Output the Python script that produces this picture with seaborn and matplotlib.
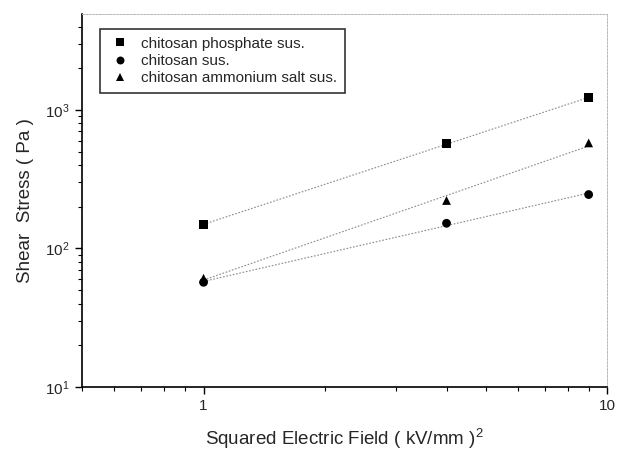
import numpy as np
import pandas as pd
import matplotlib
matplotlib.use("Agg")
import matplotlib.pyplot as plt
import seaborn as sns
from matplotlib.ticker import LogLocator, NullFormatter

# ---- data ----
field = [1, 4, 9]
phosphate = [149, 569, 1227]
chitosan = [57, 152, 245]
ammonium = [61, 222, 578]
series_names = ["chitosan phosphate sus.", "chitosan sus.", "chitosan ammonium salt sus."]
xtick_vals = [1, 10]
xtick_labels = ["1", "10"]

sns.set_theme(style="ticks")
plt.rcParams['font.family'] = ['Liberation Sans', 'DejaVu Sans']
plt.rcParams['mathtext.fontset'] = 'custom'
plt.rcParams['mathtext.rm'] = 'Liberation Sans'
plt.rcParams['mathtext.it'] = 'Liberation Sans'

df = pd.DataFrame({
    "x": field * 3,
    "y": phosphate + chitosan + ammonium,
    "series": [series_names[0]] * 3 + [series_names[1]] * 3 + [series_names[2]] * 3,
})

fig = plt.figure(figsize=(6.17, 4.5), dpi=100)
ax = fig.add_axes([0.133, 0.14, 0.851, 0.829])

# power-law fit lines (straight lines in log-log)
xs = np.array([1.0, 9.0])
for vals in (phosphate, chitosan, ammonium):
    k, b = np.polyfit(np.log10(field), np.log10(vals), 1)
    ax.plot(xs, 10 ** (b + k * np.log10(xs)), color="#8a8a8a", lw=0.8,
            ls=(0, (1.5, 1.5)), zorder=1)

sns.scatterplot(data=df, x="x", y="y", style="series", hue="series",
                palette=["black"] * 3, markers=["s", "o", "^"],
                s=40, edgecolor="black", linewidth=0, ax=ax, zorder=3)

ax.set_xscale("log")
ax.set_yscale("log")
ax.set_xlim(0.5, 10)
ax.set_ylim(10, 4930)

ax.set_xticks(xtick_vals, labels=xtick_labels)
ax.xaxis.set_minor_locator(LogLocator(base=10, subs=np.arange(2, 10)))
ax.xaxis.set_minor_formatter(NullFormatter())
ax.yaxis.set_major_locator(LogLocator(base=10))
ax.yaxis.set_minor_locator(LogLocator(base=10, subs=np.arange(2, 10)))
ax.yaxis.set_minor_formatter(NullFormatter())

ax.tick_params(axis="both", which="major", direction="out", length=5, width=1,
               labelsize=11, color="black", pad=4)
ax.tick_params(axis="both", which="minor", direction="out", length=3, width=0.8,
               color="black")

for side in ("left", "bottom"):
    ax.spines[side].set_color("black")
    ax.spines[side].set_linewidth(1.2)
for side in ("top", "right"):
    ax.spines[side].set_visible(True)
    ax.spines[side].set_color("#b8b8b8")
    ax.spines[side].set_linewidth(0.7)
    ax.spines[side].set_linestyle((0, (2, 1.5)))

ax.set_xlabel("Squared Electric Field ( kV/mm )$^2$", fontsize=13.5, labelpad=10)
ax.set_ylabel("Shear  Stress ( Pa )", fontsize=13.5, labelpad=8)

leg = ax.legend(loc="upper left", bbox_to_anchor=(0.034, 0.96), borderaxespad=0,
                frameon=True, fontsize=11, fancybox=False, handlelength=1.6,
                handletextpad=0.6, borderpad=0.5, labelspacing=0.22,
                markerscale=0.9)
leg.get_frame().set_edgecolor("black")
leg.get_frame().set_linewidth(1.2)

fig.savefig("out.png", dpi=100)
